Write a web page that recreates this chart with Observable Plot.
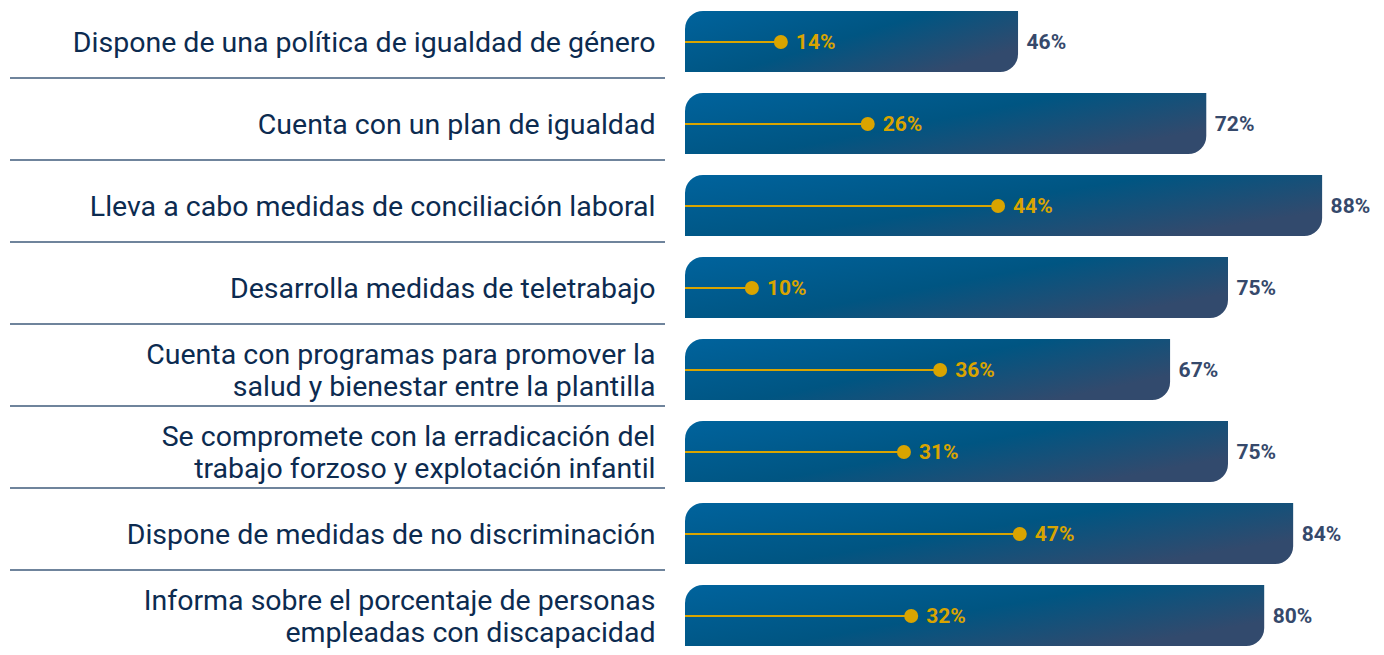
<!DOCTYPE html>
<html><head><meta charset="utf-8">
<script src="https://cdn.jsdelivr.net/npm/d3@7"></script>
<script src="https://cdn.jsdelivr.net/npm/@observablehq/plot@0.6"></script>
<style>body{margin:0;background:#fff}</style>
</head><body><div id="chart"></div>
<script>
const labels = [
  "Dispone de una política de igualdad de género",
  "Cuenta con un plan de igualdad",
  "Lleva a cabo medidas de conciliación laboral",
  "Desarrolla medidas de teletrabajo",
  "Cuenta con programas para promover la\nsalud y bienestar entre la plantilla",
  "Se compromete con la erradicación del\ntrabajo forzoso y explotación infantil",
  "Dispone de medidas de no discriminación",
  "Informa sobre el porcentaje de personas\nempleadas con discapacidad"
];
const totalValues = [46, 72, 88, 75, 67, 75, 84, 80];
const subValues = [14, 26, 44, 10, 36, 31, 47, 32];

const data = labels.map((label, i) => ({label, total: totalValues[i], sub: subValues[i]}));
const gold = "#d9a400";

const plot = Plot.plot({
  width: 1384,
  height: 655,
  marginLeft: 0, marginRight: 0, marginTop: 0, marginBottom: 0,
  x: {domain: [0, 100], range: [685, 1409], axis: null},
  y: {domain: labels, range: [10, 647], paddingInner: 0.26, paddingOuter: 0, axis: null},
  style: {fontFamily: "Roboto, sans-serif", background: "#fff"},
  marks: [
    Plot.ruleY(labels.slice(0, -1), {y: d => d, dy: 36, stroke: "#3f5b7b", strokeWidth: 1.3, insetLeft: 10, insetRight: 719}),
    Plot.barX(data, {x: "total", y: "label", fill: "url(#barGrad)", rx1y1: 18, rx2y2: 18}),
    Plot.ruleY(data, {y: "label", x1: 0, x2: "sub", stroke: gold, strokeWidth: 2}),
    Plot.dot(data, {x: "sub", y: "label", r: 7, fill: gold, dx: -6}),
    Plot.text(data, {x: "sub", y: "label", text: d => d.sub + "%", dx: 9, textAnchor: "start", fill: gold, fontWeight: "bold", fontSize: 21}),
    Plot.text(data, {x: "total", y: "label", text: d => d.total + "%", dx: 8, textAnchor: "start", fill: "#36496b", fontWeight: "bold", fontSize: 21}),
    Plot.text(data, {x: () => 0, y: "label", text: "label", dx: -30, textAnchor: "end", lineAnchor: "middle", lineHeight: 1.1, fill: "#0c2b50", fontSize: 28.5})
  ]
});

const ns = "http://www.w3.org/2000/svg";
const defs = document.createElementNS(ns, "defs");
defs.innerHTML = `<linearGradient id="barGrad" x1="0" y1="0" x2="1" y2="0.6">
  <stop offset="0" stop-color="#00639d"/>
  <stop offset="0.55" stop-color="#005582"/>
  <stop offset="1" stop-color="#324a6d"/>
</linearGradient>`;
plot.insertBefore(defs, plot.firstChild);
document.getElementById("chart").appendChild(plot);
</script>
</body></html>
